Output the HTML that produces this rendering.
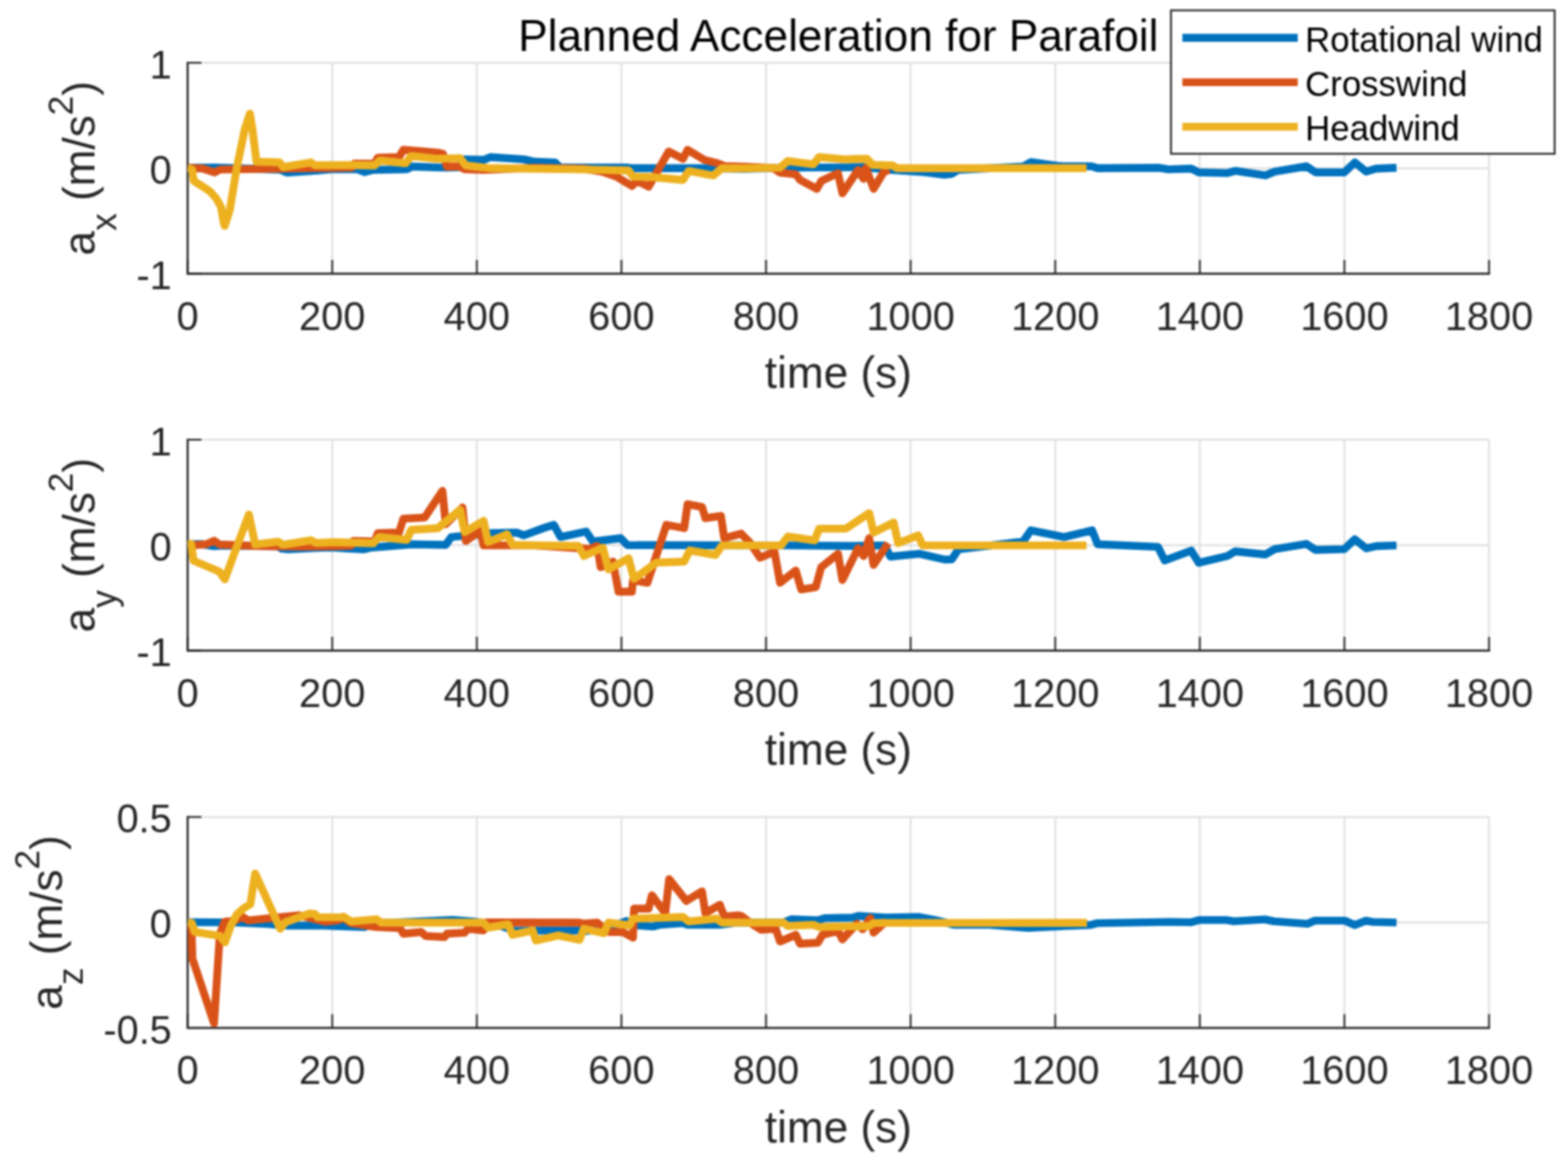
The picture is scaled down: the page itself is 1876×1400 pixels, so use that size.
<!DOCTYPE html>
<html><head><meta charset="utf-8"><title>Planned Acceleration for Parafoil</title>
<style>
html,body{margin:0;padding:0;background:#fff;}
body{width:1876px;height:1400px;overflow:hidden;}
svg{display:block;filter:blur(0.9px);}
text{font-family:"Liberation Sans",Arial,Helvetica,sans-serif;}
.tk{font-size:47.5px;fill:#262626;}
.lb{font-size:52.8px;fill:#262626;}
.tt{font-size:52.8px;fill:#000;}
.lg{font-size:41.6px;fill:#000;}
</style></head><body>
<svg width="1876" height="1400" viewBox="0 0 1876 1400">
<rect width="1876" height="1400" fill="#fff"/>
<line x1="224.50" y1="75.10" x2="224.50" y2="327.50" stroke="#dfdfdf" stroke-width="2.2"/>
<line x1="397.50" y1="75.10" x2="397.50" y2="327.50" stroke="#dfdfdf" stroke-width="2.2"/>
<line x1="570.50" y1="75.10" x2="570.50" y2="327.50" stroke="#dfdfdf" stroke-width="2.2"/>
<line x1="743.50" y1="75.10" x2="743.50" y2="327.50" stroke="#dfdfdf" stroke-width="2.2"/>
<line x1="916.50" y1="75.10" x2="916.50" y2="327.50" stroke="#dfdfdf" stroke-width="2.2"/>
<line x1="1089.50" y1="75.10" x2="1089.50" y2="327.50" stroke="#dfdfdf" stroke-width="2.2"/>
<line x1="1262.50" y1="75.10" x2="1262.50" y2="327.50" stroke="#dfdfdf" stroke-width="2.2"/>
<line x1="1435.50" y1="75.10" x2="1435.50" y2="327.50" stroke="#dfdfdf" stroke-width="2.2"/>
<line x1="1608.50" y1="75.10" x2="1608.50" y2="327.50" stroke="#dfdfdf" stroke-width="2.2"/>
<line x1="1781.50" y1="75.10" x2="1781.50" y2="327.50" stroke="#dfdfdf" stroke-width="2.2"/>
<line x1="224.50" y1="327.50" x2="1781.50" y2="327.50" stroke="#dfdfdf" stroke-width="2.2"/>
<line x1="224.50" y1="201.30" x2="1781.50" y2="201.30" stroke="#dfdfdf" stroke-width="2.2"/>
<line x1="224.50" y1="75.10" x2="1781.50" y2="75.10" stroke="#dfdfdf" stroke-width="2.2"/>
<path d="M224.50,75.10 L224.50,327.50 L1781.50,327.50" fill="none" stroke="#262626" stroke-width="2.4" stroke-linecap="square"/>
<line x1="224.50" y1="327.50" x2="224.50" y2="311.00" stroke="#262626" stroke-width="2.1"/>
<line x1="397.50" y1="327.50" x2="397.50" y2="311.00" stroke="#262626" stroke-width="2.1"/>
<line x1="570.50" y1="327.50" x2="570.50" y2="311.00" stroke="#262626" stroke-width="2.1"/>
<line x1="743.50" y1="327.50" x2="743.50" y2="311.00" stroke="#262626" stroke-width="2.1"/>
<line x1="916.50" y1="327.50" x2="916.50" y2="311.00" stroke="#262626" stroke-width="2.1"/>
<line x1="1089.50" y1="327.50" x2="1089.50" y2="311.00" stroke="#262626" stroke-width="2.1"/>
<line x1="1262.50" y1="327.50" x2="1262.50" y2="311.00" stroke="#262626" stroke-width="2.1"/>
<line x1="1435.50" y1="327.50" x2="1435.50" y2="311.00" stroke="#262626" stroke-width="2.1"/>
<line x1="1608.50" y1="327.50" x2="1608.50" y2="311.00" stroke="#262626" stroke-width="2.1"/>
<line x1="1781.50" y1="327.50" x2="1781.50" y2="311.00" stroke="#262626" stroke-width="2.1"/>
<line x1="224.50" y1="327.50" x2="241.00" y2="327.50" stroke="#262626" stroke-width="2.1"/>
<line x1="224.50" y1="201.30" x2="241.00" y2="201.30" stroke="#262626" stroke-width="2.1"/>
<line x1="224.50" y1="75.10" x2="241.00" y2="75.10" stroke="#262626" stroke-width="2.1"/>
<clipPath id="c0"><rect x="224.50" y="75.10" width="1557.00" height="252.40"/></clipPath>
<g clip-path="url(#c0)">
<path d="M224.5,200.6 L258.0,200.5 L335.0,203.0 L343.0,206.5 L380.0,204.0 L396.0,202.6 L428.0,202.6 L436.0,206.0 L446.6,203.3 L486.6,202.6 L493.3,199.3 L533.3,200.6 L550.0,200.0 L554.6,190.6 L578.6,191.3 L586.6,188.0 L626.6,190.6 L640.0,193.5 L664.0,194.4 L670.0,200.2 L750.0,200.5 L757.0,201.3 L853.0,201.3 L890.0,202.0 L942.6,200.6 L1033.2,200.0 L1066.6,203.3 L1106.5,206.0 L1130.0,209.0 L1138.7,208.0 L1146.7,203.3 L1224.0,199.3 L1233.3,194.0 L1266.6,198.6 L1306.0,199.0 L1313.2,201.3 L1387.2,200.8 L1398.0,202.6 L1425.2,201.7 L1434.3,206.2 L1468.7,207.1 L1477.8,204.4 L1514.0,209.8 L1525.0,205.3 L1563.0,199.0 L1573.9,206.2 L1608.3,206.2 L1621.0,194.4 L1634.6,205.3 L1646.4,201.7 L1670.8,200.8" fill="none" stroke="#0072BD" stroke-width="9.4" stroke-linejoin="round" stroke-linecap="butt"/>
<path d="M224.5,200.6 L242.9,201.7 L256.6,206.3 L263.4,202.9 L421.0,200.5 L424.0,195.8 L448.0,196.0 L452.0,188.6 L477.3,188.0 L482.6,179.3 L506.6,181.3 L524.0,182.6 L530.0,184.0 L534.6,199.3 L549.3,199.3 L556.0,202.6 L580.0,203.3 L640.0,200.6 L700.0,202.0 L720.0,205.3 L737.3,211.3 L756.0,222.6 L762.6,216.6 L776.0,223.3 L800.0,181.3 L817.2,190.0 L822.6,179.3 L842.6,191.3 L858.5,195.3 L866.5,198.6 L890.0,199.5 L925.0,201.0 L933.3,206.6 L952.0,208.6 L957.3,215.3 L977.3,226.0 L982.6,216.6 L1002.6,207.3 L1007.9,231.3 L1026.6,203.3 L1033.2,214.0 L1035.9,200.6 L1045.2,226.0 L1057.2,206.0 L1063.9,203.3" fill="none" stroke="#D95319" stroke-width="9.4" stroke-linejoin="round" stroke-linecap="butt"/>
<path d="M224.5,200.6 L230.0,203.0 L231.8,216.5 L242.9,223.4 L252.0,229.7 L258.9,237.7 L264.6,248.0 L266.9,262.9 L268.8,270.3 L275.0,251.0 L283.4,200.0 L293.0,154.3 L298.9,135.9 L302.0,154.3 L306.9,193.5 L334.3,194.3 L338.9,200.0 L372.0,194.3 L376.6,197.7 L420.0,197.5 L448.0,198.0 L454.6,192.0 L485.3,195.3 L492.0,186.6 L522.6,190.0 L550.6,189.3 L557.3,198.0 L586.6,201.3 L650.0,202.0 L693.3,202.6 L752.0,204.0 L757.3,211.3 L780.0,212.0 L817.2,215.3 L824.0,204.6 L853.2,210.0 L863.9,201.3 L890.0,201.5 L933.3,200.6 L942.6,192.6 L973.3,196.6 L980.0,188.0 L1010.6,190.6 L1037.2,190.0 L1043.9,197.3 L1067.9,198.0 L1073.2,201.3 L1299.9,201.3" fill="none" stroke="#EDB120" stroke-width="9.4" stroke-linejoin="round" stroke-linecap="butt"/>
</g>
<text x="224.50" y="394.50" text-anchor="middle" class="tk">0</text>
<text x="397.50" y="394.50" text-anchor="middle" class="tk">200</text>
<text x="570.50" y="394.50" text-anchor="middle" class="tk">400</text>
<text x="743.50" y="394.50" text-anchor="middle" class="tk">600</text>
<text x="916.50" y="394.50" text-anchor="middle" class="tk">800</text>
<text x="1089.50" y="394.50" text-anchor="middle" class="tk">1000</text>
<text x="1262.50" y="394.50" text-anchor="middle" class="tk">1200</text>
<text x="1435.50" y="394.50" text-anchor="middle" class="tk">1400</text>
<text x="1608.50" y="394.50" text-anchor="middle" class="tk">1600</text>
<text x="1781.50" y="394.50" text-anchor="middle" class="tk">1800</text>
<text x="205.5" y="346.00" text-anchor="end" class="tk">-1</text>
<text x="205.5" y="219.80" text-anchor="end" class="tk">0</text>
<text x="205.5" y="93.60" text-anchor="end" class="tk">1</text>
<text x="1003.00" y="464.00" text-anchor="middle" class="lb">time (s)</text>
<text transform="translate(112.9,201.30) rotate(-90)" text-anchor="middle" class="lb">a<tspan font-size="42.2" dy="25.9">x</tspan><tspan dy="-25.9"> (m/s</tspan><tspan font-size="42.2" dy="-26.2">2</tspan><tspan dy="26.2">)</tspan></text>
<line x1="224.50" y1="526.10" x2="224.50" y2="778.50" stroke="#dfdfdf" stroke-width="2.2"/>
<line x1="397.50" y1="526.10" x2="397.50" y2="778.50" stroke="#dfdfdf" stroke-width="2.2"/>
<line x1="570.50" y1="526.10" x2="570.50" y2="778.50" stroke="#dfdfdf" stroke-width="2.2"/>
<line x1="743.50" y1="526.10" x2="743.50" y2="778.50" stroke="#dfdfdf" stroke-width="2.2"/>
<line x1="916.50" y1="526.10" x2="916.50" y2="778.50" stroke="#dfdfdf" stroke-width="2.2"/>
<line x1="1089.50" y1="526.10" x2="1089.50" y2="778.50" stroke="#dfdfdf" stroke-width="2.2"/>
<line x1="1262.50" y1="526.10" x2="1262.50" y2="778.50" stroke="#dfdfdf" stroke-width="2.2"/>
<line x1="1435.50" y1="526.10" x2="1435.50" y2="778.50" stroke="#dfdfdf" stroke-width="2.2"/>
<line x1="1608.50" y1="526.10" x2="1608.50" y2="778.50" stroke="#dfdfdf" stroke-width="2.2"/>
<line x1="1781.50" y1="526.10" x2="1781.50" y2="778.50" stroke="#dfdfdf" stroke-width="2.2"/>
<line x1="224.50" y1="778.50" x2="1781.50" y2="778.50" stroke="#dfdfdf" stroke-width="2.2"/>
<line x1="224.50" y1="652.30" x2="1781.50" y2="652.30" stroke="#dfdfdf" stroke-width="2.2"/>
<line x1="224.50" y1="526.10" x2="1781.50" y2="526.10" stroke="#dfdfdf" stroke-width="2.2"/>
<path d="M224.50,526.10 L224.50,778.50 L1781.50,778.50" fill="none" stroke="#262626" stroke-width="2.4" stroke-linecap="square"/>
<line x1="224.50" y1="778.50" x2="224.50" y2="762.00" stroke="#262626" stroke-width="2.1"/>
<line x1="397.50" y1="778.50" x2="397.50" y2="762.00" stroke="#262626" stroke-width="2.1"/>
<line x1="570.50" y1="778.50" x2="570.50" y2="762.00" stroke="#262626" stroke-width="2.1"/>
<line x1="743.50" y1="778.50" x2="743.50" y2="762.00" stroke="#262626" stroke-width="2.1"/>
<line x1="916.50" y1="778.50" x2="916.50" y2="762.00" stroke="#262626" stroke-width="2.1"/>
<line x1="1089.50" y1="778.50" x2="1089.50" y2="762.00" stroke="#262626" stroke-width="2.1"/>
<line x1="1262.50" y1="778.50" x2="1262.50" y2="762.00" stroke="#262626" stroke-width="2.1"/>
<line x1="1435.50" y1="778.50" x2="1435.50" y2="762.00" stroke="#262626" stroke-width="2.1"/>
<line x1="1608.50" y1="778.50" x2="1608.50" y2="762.00" stroke="#262626" stroke-width="2.1"/>
<line x1="1781.50" y1="778.50" x2="1781.50" y2="762.00" stroke="#262626" stroke-width="2.1"/>
<line x1="224.50" y1="778.50" x2="241.00" y2="778.50" stroke="#262626" stroke-width="2.1"/>
<line x1="224.50" y1="652.30" x2="241.00" y2="652.30" stroke="#262626" stroke-width="2.1"/>
<line x1="224.50" y1="526.10" x2="241.00" y2="526.10" stroke="#262626" stroke-width="2.1"/>
<clipPath id="c1"><rect x="224.50" y="526.10" width="1557.00" height="252.40"/></clipPath>
<g clip-path="url(#c1)">
<path d="M224.5,651.5 L240.0,651.0 L256.2,653.5 L265.0,652.8 L300.0,653.2 L332.0,653.5 L337.3,656.6 L344.7,657.2 L380.0,655.6 L395.9,655.0 L420.0,656.5 L436.0,657.3 L444.0,655.3 L493.3,651.3 L533.3,652.0 L540.0,642.6 L586.6,638.0 L618.6,637.3 L626.6,640.6 L650.0,632.0 L662.6,628.0 L670.6,642.6 L701.3,636.0 L709.3,648.0 L742.6,644.0 L750.6,652.3 L940.0,652.6 L1019.9,653.3 L1058.6,652.6 L1065.2,666.0 L1099.9,662.6 L1130.0,669.5 L1138.7,669.3 L1146.7,657.3 L1224.0,648.0 L1233.3,634.6 L1273.2,642.6 L1306.6,634.6 L1313.2,651.3 L1385.4,654.4 L1393.5,670.7 L1425.2,658.9 L1434.3,673.4 L1468.7,665.3 L1477.8,659.8 L1514.0,663.5 L1525.0,657.1 L1563.0,650.8 L1573.9,658.0 L1608.3,657.1 L1621.0,645.3 L1634.6,656.2 L1646.4,653.5 L1670.8,652.6" fill="none" stroke="#0072BD" stroke-width="9.4" stroke-linejoin="round" stroke-linecap="butt"/>
<path d="M224.5,652.9 L246.7,651.3 L256.2,647.0 L262.6,651.5 L305.3,653.2 L358.6,654.0 L400.0,653.5 L420.0,653.0 L422.7,647.3 L448.0,648.0 L452.0,638.0 L477.3,637.3 L482.6,620.6 L508.0,619.3 L529.3,587.3 L533.3,627.3 L553.3,607.3 L557.3,647.3 L574.6,635.3 L578.6,652.6 L640.0,652.6 L692.0,656.0 L705.3,656.6 L714.6,653.3 L718.6,678.6 L733.3,672.0 L740.0,708.0 L756.0,708.0 L757.3,694.6 L774.6,697.3 L797.3,628.0 L818.6,632.0 L822.6,603.3 L839.9,606.6 L843.9,620.0 L862.5,617.3 L866.5,644.0 L886.7,638.6 L897.3,649.3 L909.3,667.3 L926.6,660.0 L933.3,697.3 L952.0,682.6 L958.6,705.3 L976.0,702.6 L982.6,678.6 L1002.6,662.6 L1007.9,694.0 L1026.6,656.0 L1033.2,665.3 L1039.9,644.0 L1045.2,676.0 L1062.6,650.0" fill="none" stroke="#D95319" stroke-width="9.4" stroke-linejoin="round" stroke-linecap="butt"/>
<path d="M224.5,651.8 L228.5,650.5 L231.7,671.0 L262.5,684.0 L269.0,693.2 L283.0,655.0 L297.8,615.6 L305.3,651.5 L333.0,648.1 L338.3,651.8 L372.5,646.5 L377.8,649.7 L400.0,648.8 L446.6,650.0 L453.3,642.6 L486.6,646.0 L492.0,634.0 L523.9,632.0 L550.6,610.0 L555.9,636.6 L578.6,623.3 L583.9,648.6 L606.6,639.3 L613.2,652.0 L650.0,652.6 L692.0,653.3 L698.6,665.3 L721.3,655.3 L728.0,681.3 L752.0,668.0 L758.6,692.6 L785.3,673.3 L818.6,672.0 L825.2,658.6 L855.9,664.0 L863.9,652.6 L934.6,652.6 L942.6,642.0 L974.6,646.6 L980.0,632.6 L1011.9,632.6 L1039.9,614.0 L1045.2,637.3 L1069.2,625.3 L1074.6,650.0 L1098.5,640.6 L1103.9,652.6 L1299.9,652.6" fill="none" stroke="#EDB120" stroke-width="9.4" stroke-linejoin="round" stroke-linecap="butt"/>
</g>
<text x="224.50" y="845.50" text-anchor="middle" class="tk">0</text>
<text x="397.50" y="845.50" text-anchor="middle" class="tk">200</text>
<text x="570.50" y="845.50" text-anchor="middle" class="tk">400</text>
<text x="743.50" y="845.50" text-anchor="middle" class="tk">600</text>
<text x="916.50" y="845.50" text-anchor="middle" class="tk">800</text>
<text x="1089.50" y="845.50" text-anchor="middle" class="tk">1000</text>
<text x="1262.50" y="845.50" text-anchor="middle" class="tk">1200</text>
<text x="1435.50" y="845.50" text-anchor="middle" class="tk">1400</text>
<text x="1608.50" y="845.50" text-anchor="middle" class="tk">1600</text>
<text x="1781.50" y="845.50" text-anchor="middle" class="tk">1800</text>
<text x="205.5" y="797.00" text-anchor="end" class="tk">-1</text>
<text x="205.5" y="670.80" text-anchor="end" class="tk">0</text>
<text x="205.5" y="544.60" text-anchor="end" class="tk">1</text>
<text x="1003.00" y="915.00" text-anchor="middle" class="lb">time (s)</text>
<text transform="translate(112.9,652.30) rotate(-90)" text-anchor="middle" class="lb">a<tspan font-size="42.2" dy="25.9">y</tspan><tspan dy="-25.9"> (m/s</tspan><tspan font-size="42.2" dy="-26.2">2</tspan><tspan dy="26.2">)</tspan></text>
<line x1="224.50" y1="977.60" x2="224.50" y2="1230.00" stroke="#dfdfdf" stroke-width="2.2"/>
<line x1="397.50" y1="977.60" x2="397.50" y2="1230.00" stroke="#dfdfdf" stroke-width="2.2"/>
<line x1="570.50" y1="977.60" x2="570.50" y2="1230.00" stroke="#dfdfdf" stroke-width="2.2"/>
<line x1="743.50" y1="977.60" x2="743.50" y2="1230.00" stroke="#dfdfdf" stroke-width="2.2"/>
<line x1="916.50" y1="977.60" x2="916.50" y2="1230.00" stroke="#dfdfdf" stroke-width="2.2"/>
<line x1="1089.50" y1="977.60" x2="1089.50" y2="1230.00" stroke="#dfdfdf" stroke-width="2.2"/>
<line x1="1262.50" y1="977.60" x2="1262.50" y2="1230.00" stroke="#dfdfdf" stroke-width="2.2"/>
<line x1="1435.50" y1="977.60" x2="1435.50" y2="1230.00" stroke="#dfdfdf" stroke-width="2.2"/>
<line x1="1608.50" y1="977.60" x2="1608.50" y2="1230.00" stroke="#dfdfdf" stroke-width="2.2"/>
<line x1="1781.50" y1="977.60" x2="1781.50" y2="1230.00" stroke="#dfdfdf" stroke-width="2.2"/>
<line x1="224.50" y1="1230.00" x2="1781.50" y2="1230.00" stroke="#dfdfdf" stroke-width="2.2"/>
<line x1="224.50" y1="1103.80" x2="1781.50" y2="1103.80" stroke="#dfdfdf" stroke-width="2.2"/>
<line x1="224.50" y1="977.60" x2="1781.50" y2="977.60" stroke="#dfdfdf" stroke-width="2.2"/>
<path d="M224.50,977.60 L224.50,1230.00 L1781.50,1230.00" fill="none" stroke="#262626" stroke-width="2.4" stroke-linecap="square"/>
<line x1="224.50" y1="1230.00" x2="224.50" y2="1213.50" stroke="#262626" stroke-width="2.1"/>
<line x1="397.50" y1="1230.00" x2="397.50" y2="1213.50" stroke="#262626" stroke-width="2.1"/>
<line x1="570.50" y1="1230.00" x2="570.50" y2="1213.50" stroke="#262626" stroke-width="2.1"/>
<line x1="743.50" y1="1230.00" x2="743.50" y2="1213.50" stroke="#262626" stroke-width="2.1"/>
<line x1="916.50" y1="1230.00" x2="916.50" y2="1213.50" stroke="#262626" stroke-width="2.1"/>
<line x1="1089.50" y1="1230.00" x2="1089.50" y2="1213.50" stroke="#262626" stroke-width="2.1"/>
<line x1="1262.50" y1="1230.00" x2="1262.50" y2="1213.50" stroke="#262626" stroke-width="2.1"/>
<line x1="1435.50" y1="1230.00" x2="1435.50" y2="1213.50" stroke="#262626" stroke-width="2.1"/>
<line x1="1608.50" y1="1230.00" x2="1608.50" y2="1213.50" stroke="#262626" stroke-width="2.1"/>
<line x1="1781.50" y1="1230.00" x2="1781.50" y2="1213.50" stroke="#262626" stroke-width="2.1"/>
<line x1="224.50" y1="1230.00" x2="241.00" y2="1230.00" stroke="#262626" stroke-width="2.1"/>
<line x1="224.50" y1="1103.80" x2="241.00" y2="1103.80" stroke="#262626" stroke-width="2.1"/>
<line x1="224.50" y1="977.60" x2="241.00" y2="977.60" stroke="#262626" stroke-width="2.1"/>
<clipPath id="c2"><rect x="224.50" y="977.60" width="1557.00" height="252.40"/></clipPath>
<g clip-path="url(#c2)">
<path d="M224.5,1103.5 L281.4,1103.7 L320.0,1105.5 L342.9,1107.5 L389.0,1107.5 L400.0,1108.0 L436.0,1109.3 L446.6,1105.3 L541.3,1100.6 L566.6,1102.6 L600.0,1108.0 L616.0,1114.0 L650.0,1113.5 L693.3,1113.3 L700.0,1114.0 L720.0,1112.0 L745.0,1104.0 L749.3,1102.0 L762.6,1107.3 L781.3,1108.6 L789.3,1106.6 L817.2,1104.6 L822.6,1106.6 L861.2,1106.6 L880.0,1104.0 L937.3,1104.0 L946.6,1100.0 L978.6,1101.3 L986.6,1098.6 L1020.0,1098.0 L1026.6,1096.0 L1059.9,1098.0 L1099.9,1097.3 L1120.0,1101.0 L1141.0,1106.5 L1181.0,1106.3 L1230.0,1110.3 L1265.0,1108.5 L1305.0,1106.8 L1313.0,1104.6 L1400.0,1103.1 L1425.4,1103.6 L1434.3,1100.9 L1467.2,1100.9 L1476.1,1102.4 L1513.4,1100.1 L1523.9,1102.4 L1564.2,1105.4 L1573.1,1101.6 L1609.0,1101.6 L1620.9,1106.9 L1634.3,1101.6 L1641.8,1103.1 L1670.9,1103.9" fill="none" stroke="#0072BD" stroke-width="9.4" stroke-linejoin="round" stroke-linecap="butt"/>
<path d="M224.5,1104.0 L229.3,1112.0 L230.2,1147.0 L256.1,1224.6 L263.0,1118.0 L268.7,1103.0 L280.0,1102.0 L290.0,1097.0 L296.8,1101.4 L327.5,1098.3 L358.2,1095.3 L389.0,1103.0 L405.0,1101.0 L411.0,1097.0 L415.0,1101.0 L420.0,1104.6 L450.6,1109.3 L478.6,1110.6 L482.6,1117.3 L504.0,1115.3 L509.3,1120.0 L532.0,1121.3 L534.6,1117.3 L556.0,1116.0 L560.0,1111.3 L578.6,1113.3 L582.6,1103.8 L693.3,1104.0 L697.3,1105.3 L714.6,1104.0 L720.0,1108.6 L729.3,1115.3 L745.3,1115.3 L757.3,1122.0 L758.6,1087.3 L775.9,1087.3 L780.0,1071.3 L795.9,1092.6 L800.6,1052.0 L821.2,1078.0 L839.9,1066.6 L843.9,1092.6 L861.2,1082.6 L866.5,1096.6 L883.9,1095.3 L887.0,1096.0 L897.3,1104.0 L910.6,1112.6 L928.0,1111.3 L933.3,1126.6 L952.0,1118.6 L957.3,1129.3 L978.6,1128.0 L984.0,1118.6 L1002.6,1114.0 L1007.9,1124.0 L1025.2,1105.3 L1032.0,1112.0 L1041.2,1098.6 L1045.2,1116.0 L1060.6,1102.0" fill="none" stroke="#D95319" stroke-width="9.4" stroke-linejoin="round" stroke-linecap="butt"/>
<path d="M224.5,1103.7 L229.5,1104.5 L233.0,1115.2 L263.0,1119.8 L269.2,1127.5 L276.0,1108.0 L283.5,1094.0 L292.0,1086.5 L299.5,1082.0 L305.3,1045.3 L335.2,1111.4 L341.4,1103.7 L370.5,1093.0 L376.7,1093.7 L379.8,1097.6 L408.9,1097.6 L412.0,1097.3 L420.0,1102.6 L450.6,1100.0 L456.0,1104.0 L578.6,1104.0 L583.9,1110.0 L607.9,1106.0 L613.2,1118.6 L637.2,1113.3 L641.2,1125.3 L668.0,1119.3 L693.3,1124.6 L698.6,1111.3 L722.6,1116.6 L728.0,1104.0 L753.3,1107.3 L757.3,1099.3 L817.2,1097.3 L823.9,1102.6 L857.2,1099.3 L863.9,1104.0 L937.3,1104.0 L942.6,1108.0 L973.3,1106.6 L980.0,1109.3 L1039.9,1108.0 L1045.2,1104.4 L1300.5,1104.2" fill="none" stroke="#EDB120" stroke-width="9.4" stroke-linejoin="round" stroke-linecap="butt"/>
</g>
<text x="224.50" y="1297.00" text-anchor="middle" class="tk">0</text>
<text x="397.50" y="1297.00" text-anchor="middle" class="tk">200</text>
<text x="570.50" y="1297.00" text-anchor="middle" class="tk">400</text>
<text x="743.50" y="1297.00" text-anchor="middle" class="tk">600</text>
<text x="916.50" y="1297.00" text-anchor="middle" class="tk">800</text>
<text x="1089.50" y="1297.00" text-anchor="middle" class="tk">1000</text>
<text x="1262.50" y="1297.00" text-anchor="middle" class="tk">1200</text>
<text x="1435.50" y="1297.00" text-anchor="middle" class="tk">1400</text>
<text x="1608.50" y="1297.00" text-anchor="middle" class="tk">1600</text>
<text x="1781.50" y="1297.00" text-anchor="middle" class="tk">1800</text>
<text x="205.5" y="1248.50" text-anchor="end" class="tk">-0.5</text>
<text x="205.5" y="1122.30" text-anchor="end" class="tk">0</text>
<text x="205.5" y="996.10" text-anchor="end" class="tk">0.5</text>
<text x="1003.00" y="1366.50" text-anchor="middle" class="lb">time (s)</text>
<text transform="translate(73.5,1103.80) rotate(-90)" text-anchor="middle" class="lb">a<tspan font-size="42.2" dy="25.9">z</tspan><tspan dy="-25.9"> (m/s</tspan><tspan font-size="42.2" dy="-26.2">2</tspan><tspan dy="26.2">)</tspan></text>
<text x="1003" y="60.8" text-anchor="middle" class="tt">Planned Acceleration for Parafoil</text>
<rect x="1401" y="12.4" width="459" height="171.6" fill="#ffffff" stroke="#262626" stroke-width="2.2"/>
<line x1="1414.6" y1="45.3" x2="1552.7" y2="45.3" stroke="#0072BD" stroke-width="9.4"/>
<text x="1561.5" y="61.5" class="lg">Rotational wind</text>
<line x1="1414.6" y1="98.4" x2="1552.7" y2="98.4" stroke="#D95319" stroke-width="9.4"/>
<text x="1561.5" y="114.6" class="lg">Crosswind</text>
<line x1="1414.6" y1="151.6" x2="1552.7" y2="151.6" stroke="#EDB120" stroke-width="9.4"/>
<text x="1561.5" y="167.8" class="lg">Headwind</text>
</svg>
</body></html>
